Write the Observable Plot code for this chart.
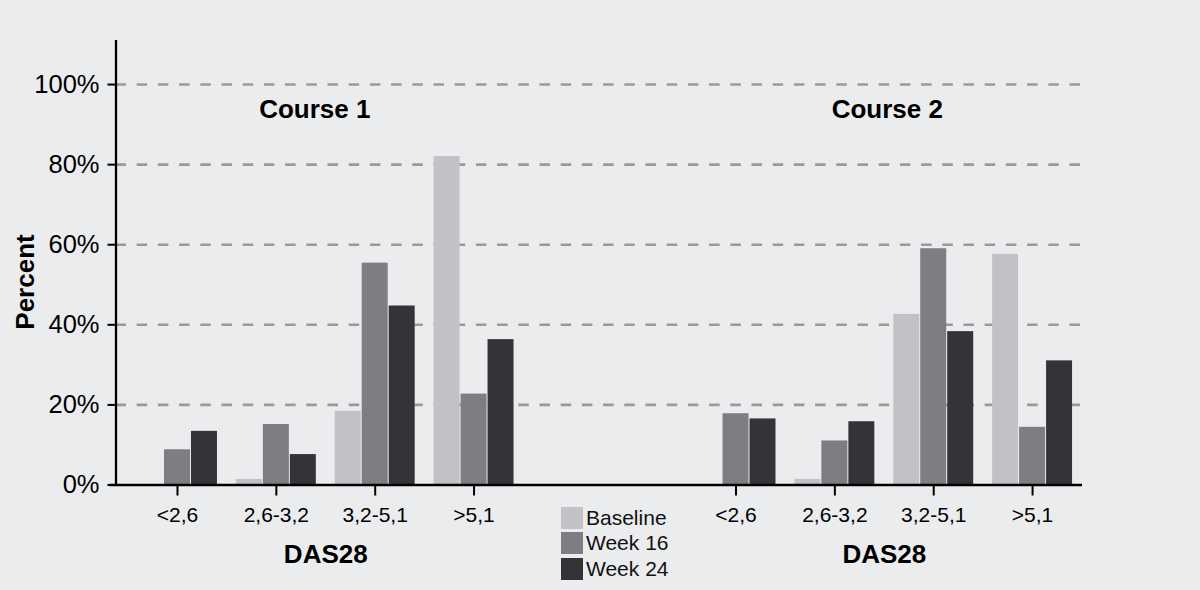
<!DOCTYPE html>
<html><head><meta charset="utf-8">
<script src="https://cdn.jsdelivr.net/npm/d3@7"></script>
<script src="https://cdn.jsdelivr.net/npm/@observablehq/plot@0.6"></script>
<style>
html,body{margin:0;padding:0;background:#ebecee;}
#wrap{position:relative;width:1200px;height:590px;font-family:"Liberation Sans",Arial,sans-serif;}
#legend{position:absolute;left:561px;top:505px;}
.item{display:flex;align-items:center;height:25.6px;font-size:21px;color:#111;}
.sw{width:22px;height:22px;margin-right:3px;}
</style></head><body><div id="wrap"><div id="chart"></div><div id="legend"></div></div>
<script>
const courses = ["Course 1", "Course 2"];
const categories = ["<2,6", "2,6-3,2", "3,2-5,1", ">5,1"];
const series = ["Baseline", "Week 16", "Week 24"];
const colors = ["#c1c2c5", "#7e7d82", "#353337"];
const course1Baseline = [0, 1.4, 18.4, 82.0];
const course1Week16 = [8.8, 15.1, 55.4, 22.7];
const course1Week24 = [13.4, 7.6, 44.7, 36.3];
const course2Baseline = [0, 1.4, 42.6, 57.6];
const course2Week16 = [17.8, 11.0, 59.0, 14.4];
const course2Week24 = [16.5, 15.8, 38.3, 31.0];
const yTicks = [0, 20, 40, 60, 80, 100];
const gridTicks = [20, 40, 60, 80, 100];
const axisLabelX = "DAS28";
const axisLabelY = "Percent";

// layout (in category-step units)
const groupStart = [0, 5.65];
const barWidth = 0.273;
const xDomain = [-0.622, 9.155];

const values = [
  [course1Baseline, course1Week16, course1Week24],
  [course2Baseline, course2Week16, course2Week24]
];
const bars = [];
courses.forEach((c, ci) => series.forEach((s, si) => categories.forEach((k, ki) => {
  const center = groupStart[ci] + ki;
  bars.push({course: c, series: s, category: k,
    x1: center + (si - 1.5) * barWidth, x2: center + (si - 0.5) * barWidth,
    value: values[ci][si][ki]});
})));
const tickPositions = [];
const tickLabel = new Map();
courses.forEach((c, ci) => categories.forEach((k, ki) => {
  const p = groupStart[ci] + ki;
  tickPositions.push(p);
  tickLabel.set(p, k);
}));
const groupCenter = (i) => groupStart[i] + (categories.length - 1) / 2;

const chart = Plot.plot({
  width: 1200, height: 590,
  marginLeft: 115.5, marginRight: 118, marginTop: 40, marginBottom: 105.5,
  style: {background: "#ebecee", fontFamily: "'Liberation Sans', Arial, sans-serif", color: "#000"},
  x: {domain: xDomain, axis: null},
  y: {domain: [0, 111], axis: null},
  color: {domain: series, range: colors},
  marks: [
    Plot.ruleY(gridTicks, {stroke: "#9a9a9a", strokeWidth: 2.6, strokeDasharray: "10.5,10.7"}),
    Plot.rectY(bars, {x1: "x1", x2: "x2", y1: 0, y2: "value", fill: "series", insetLeft: 0.5, insetRight: 0.5}),
    Plot.axisX(tickPositions, {tickFormat: d => tickLabel.get(d), tickSize: 11, tickPadding: 11, fontSize: 21, strokeWidth: 2, stroke: "#000", label: null}),
    Plot.axisY(yTicks, {tickFormat: d => d + "%", tickSize: 8, tickPadding: 8.5, fontSize: 25.5, strokeWidth: 2, stroke: "#000", label: null}),
    Plot.ruleY([0], {strokeWidth: 2.5, stroke: "#000", insetLeft: -6}),
    Plot.ruleX([xDomain[0]], {strokeWidth: 2.3, stroke: "#000"}),
    Plot.text([courses[0]], {x: () => groupCenter(0), text: d => d, frameAnchor: "top", lineAnchor: "middle", textAnchor: "middle", dy: 69, dx: -11, fontSize: 26, fontWeight: "bold"}),
    Plot.text([courses[1]], {x: () => groupCenter(1), text: d => d, frameAnchor: "top", lineAnchor: "middle", textAnchor: "middle", dy: 69, dx: 3, fontSize: 26, fontWeight: "bold"}),
    Plot.text(courses, {x: (c, i) => groupCenter(i), text: () => axisLabelX, frameAnchor: "bottom", lineAnchor: "middle", textAnchor: "middle", dy: 69.5, fontSize: 26, fontWeight: "bold"}),
    Plot.text([axisLabelY], {text: d => d, frameAnchor: "left", lineAnchor: "middle", textAnchor: "middle", rotate: -90, dx: -90.5, dy: 19.25, fontSize: 26, fontWeight: "bold"})
  ]
});
document.getElementById("chart").appendChild(chart);

const legend = document.getElementById("legend");
series.forEach((s, i) => {
  const item = document.createElement("div");
  item.className = "item";
  const sw = document.createElement("span");
  sw.className = "sw";
  sw.style.background = colors[i];
  const t = document.createElement("span");
  t.textContent = s;
  item.appendChild(sw);
  item.appendChild(t);
  legend.appendChild(item);
});
</script>
</body></html>
